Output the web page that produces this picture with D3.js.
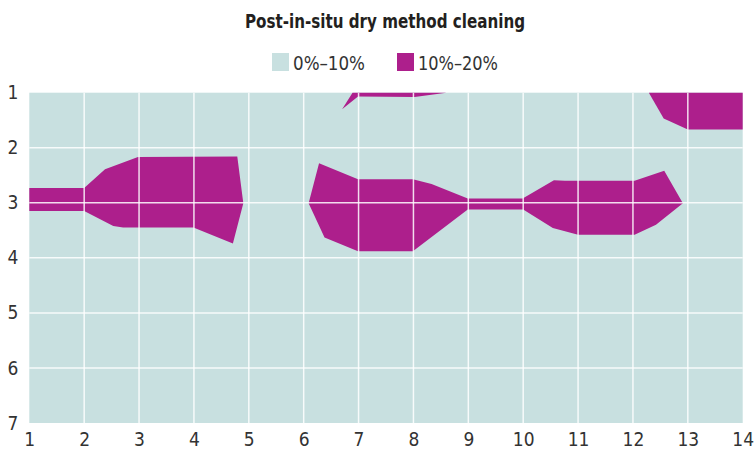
<!DOCTYPE html>
<html>
<head>
<meta charset="utf-8">
<script src="https://cdn.jsdelivr.net/npm/d3@7"></script>
<style>
  body { margin: 0; background: #fff; }
  svg text { font-family: "Liberation Sans Narrow", "DejaVu Sans Condensed", "Roboto Condensed", sans-serif; font-stretch: condensed; }
</style>
</head>
<body>
<svg id="chart" width="754" height="453"></svg>
<script>
// ticks on both axes
var xTicks = d3.range(1, 15);
var yTicks = d3.range(1, 8);

// contour levels
var levels = ['0%\u201310%', '10%\u201320%'];
var levelColors = ['#c8e0e0', '#ad1f8c'];

// 10%-20% regions as [x, y] in data units
var regionLeft = [
  [1, 2.73], [2.0, 2.73], [2.38, 2.39], [2.98, 2.17], [4.79, 2.16], [4.90, 3.01],
  [4.71, 3.74], [3.99, 3.45], [2.71, 3.45], [2.53, 3.42], [2.0, 3.15], [1, 3.15]
];
var regionCentre = [
  [6.28, 2.28], [6.99, 2.57], [7.99, 2.57], [8.33, 2.66], [8.99, 2.92], [9.99, 2.92],
  [10.56, 2.59], [10.76, 2.60], [12.03, 2.60], [12.57, 2.42], [12.91, 3.01], [12.42, 3.40],
  [12.03, 3.58], [11.0, 3.58], [10.54, 3.46], [10.0, 3.12], [8.99, 3.12], [7.99, 3.88],
  [6.99, 3.88], [6.38, 3.63], [6.09, 3.01]
];
var regionTopMid = [
  [6.70, 1.30], [6.89, 1.0], [8.60, 1.0], [8.02, 1.08], [6.99, 1.07]
];
var regionTopRight = [
  [12.29, 1.0], [14, 1.0], [14, 1.67], [13.0, 1.67], [12.56, 1.47]
];
var regions = [regionLeft, regionCentre, regionTopMid, regionTopRight];

var margin = {top: 92.7, right: 11.3, bottom: 30, left: 29.3};
var width = 754 - margin.left - margin.right;
var height = 453 - margin.top - margin.bottom;

var svg = d3.select('#chart');

svg.append('text')
  .attr('x', 385)
  .attr('y', 28)
  .attr('text-anchor', 'middle')
  .attr('textLength', 280)
  .attr('lengthAdjust', 'spacingAndGlyphs')
  .style('font-size', '20px')
  .style('font-weight', 'bold')
  .style('fill', '#231f20')
  .text('Post-in-situ dry method cleaning');

// legend
var legendPos = [272, 397];
var legendTextLen = [72, 80];
var legend = svg.selectAll('.legend')
  .data(levels)
  .enter()
  .append('g')
  .attr('class', 'legend')
  .attr('transform', function(d, i) { return 'translate(' + legendPos[i] + ',53)'; });
legend.append('rect')
  .attr('width', 17)
  .attr('height', 18)
  .style('fill', function(d, i) { return levelColors[i]; });
legend.append('text')
  .attr('x', 21)
  .attr('y', 17)
  .attr('textLength', function(d, i) { return legendTextLen[i]; })
  .attr('lengthAdjust', 'spacingAndGlyphs')
  .style('font-size', '20px')
  .style('fill', '#333')
  .text(function(d) { return d; });

var g = svg.append('g')
  .attr('transform', 'translate(' + margin.left + ',' + margin.top + ')');

var x = d3.scaleLinear().domain([1, 14]).range([0, width]);
var y = d3.scaleLinear().domain([1, 7]).range([0, height]);

g.append('rect')
  .attr('width', width)
  .attr('height', height)
  .style('fill', levelColors[0]);

var line = d3.line()
  .x(function(d) { return x(d[0]); })
  .y(function(d) { return y(d[1]); });

g.selectAll('path.region')
  .data(regions)
  .enter()
  .append('path')
  .attr('class', 'region')
  .attr('d', function(d) { return line(d) + 'Z'; })
  .style('fill', levelColors[1]);

// grid
g.selectAll('line.vgrid')
  .data(xTicks.slice(1, -1))
  .enter()
  .append('line')
  .attr('class', 'vgrid')
  .attr('x1', function(d) { return x(d); })
  .attr('x2', function(d) { return x(d); })
  .attr('y1', 0)
  .attr('y2', height)
  .style('stroke', '#fff')
  .style('stroke-opacity', 0.85)
  .style('stroke-width', 1.5);
g.selectAll('line.hgrid')
  .data(yTicks.slice(1, -1))
  .enter()
  .append('line')
  .attr('class', 'hgrid')
  .attr('x1', 0)
  .attr('x2', width)
  .attr('y1', function(d) { return y(d); })
  .attr('y2', function(d) { return y(d); })
  .style('stroke', '#fff')
  .style('stroke-opacity', 0.85)
  .style('stroke-width', 1.5);

var xAxis = g.append('g')
  .attr('transform', 'translate(0,' + height + ')')
  .call(d3.axisBottom(x).tickValues(xTicks).tickSize(0).tickPadding(10).tickFormat(d3.format('d')));
var yAxis = g.append('g')
  .call(d3.axisLeft(y).tickValues(yTicks).tickSize(0).tickPadding(11).tickFormat(d3.format('d')));

[xAxis, yAxis].forEach(function(a) {
  a.select('.domain').remove();
  a.selectAll('text')
    .style('font-size', '19px')
    .style('fill', '#333')
    .style('font-family', null);
});
</script>
</body>
</html>
